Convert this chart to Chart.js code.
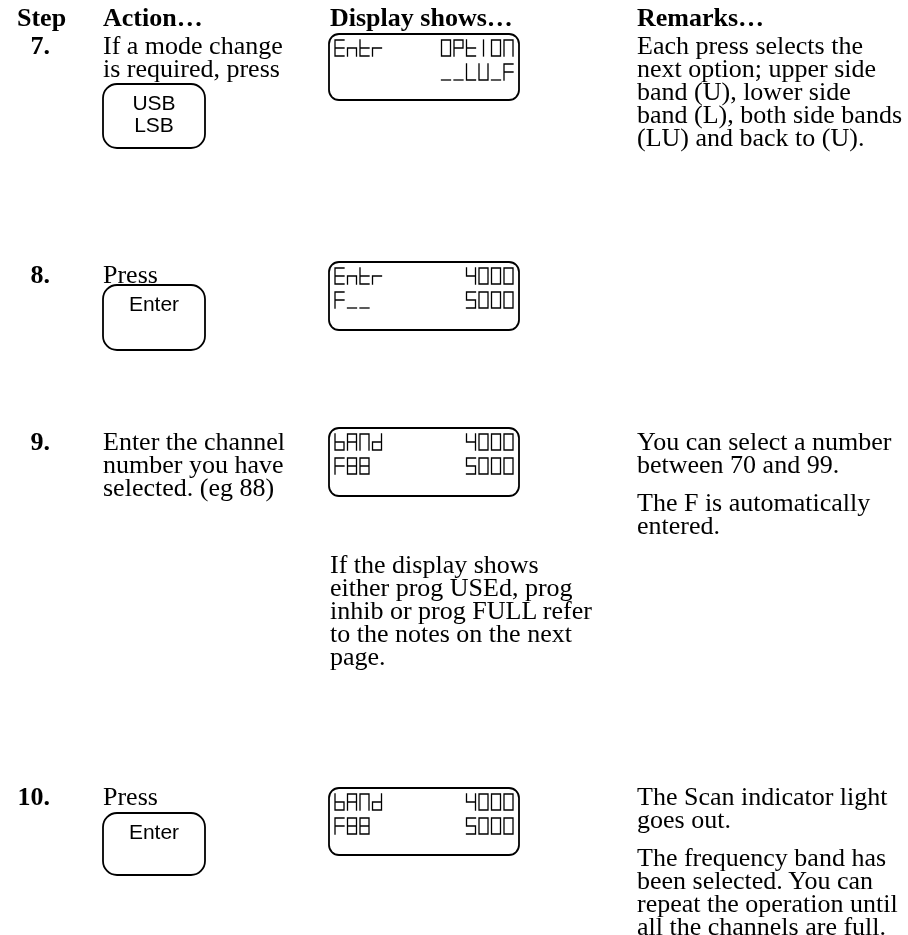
<!DOCTYPE html>
<html>
<head>
<meta charset="utf-8">
<script src="https://cdn.jsdelivr.net/npm/chart.js@4.4.1/dist/chart.umd.min.js"></script>
<style>
    html, body { margin: 0; padding: 0; background: #fff; }
    #page { position: relative; width: 908px; height: 935px; overflow: hidden; }
    #panel-canvas { position: absolute; left: 0; top: 0; }
    .txt {
        position: absolute;
        font-family: "Liberation Serif", "Times New Roman", serif;
        font-size: 26px;
        line-height: 23px;
        color: #000;
        white-space: nowrap;
    }
    .bold { font-weight: bold; }
    .step { text-align: right; width: 50px; left: 0; }
    .key {
        position: absolute;
        font-family: "Liberation Sans", Arial, sans-serif;
        font-size: 21px;
        line-height: 22px;
        text-align: center;
        width: 102px;
        left: 103px;
    }
</style>
</head>
<body>
<div id="page">
    <canvas id="panel-canvas" width="908" height="935"></canvas>
</div>
<script>
// column headings
const headings = ["Step", "Action\u2026", "Display shows\u2026", "Remarks\u2026"];

// step numbers
const stepNumbers = ["7.", "8.", "9.", "10."];

// action column text, one array per step
const actionLines = [
    ["If a mode change", "is required, press"],
    ["Press"],
    ["Enter the channel", "number you have", "selected. (eg 88)"],
    ["Press"],
];

// key labels, one per step (empty when no key)
const keyLabels = [["USB", "LSB"], ["Enter"], [], ["Enter"]];

// display text: [row1 left, row1 right, row2 left, row2 right]
const displayTexts = [
    ["Entr", "OPtION", "", "__LU_F"],
    ["Entr", "4000", "F__", "5000"],
    ["bANd", "4000", "F88", "5000"],
    ["bANd", "4000", "F88", "5000"],
];

// note under the step 9 display
const displayNote = ["If the display shows", "either prog USEd, prog", "inhib or prog FULL refer", "to the notes on the next", "page."];

// remarks, paragraphs per step
const remarks = [
    [["Each press selects the", "next option; upper side", "band (U), lower side", "band (L), both side bands", "(LU) and back to (U)."]],
    [],
    [["You can select a number", "between 70 and 99."], ["The F is automatically", "entered."]],
    [["The Scan indicator light", "goes out."], ["The frequency band has", "been selected. You can", "repeat the operation until", "all the channels are full."]],
];

// layout
const COL_X = [0, 103, 330, 637];
const HEADING_TOP = 6;
const STEP_TOPS = [34, 263, 430, 785];
const LINE_H = 23;
const PARA_GAP = 15;
const KEY_BOXES = [[103, 84, 205, 148], [103, 285, 205, 350], null, [103, 813, 205, 875]];
const DISPLAY_BOXES = [[329, 34, 519, 100], [329, 262, 519, 330], [329, 428, 519, 496], [329, 788, 519, 855]];
const NOTE_TOP = 553;

// seven segment map: a top, b upper right, c lower right, d bottom, e lower left, f upper left, g middle, i centre bar
const SEGMENTS = {
    "E": "adefg", "n": "ceg", "t": "defg", "r": "eg", "O": "abcdef", "0": "abcdef",
    "P": "abefg", "I": "i", "N": "abcef", "_": "d", "L": "def", "U": "bcdef",
    "F": "aefg", "4": "bcfg", "5": "acdfg", "8": "abcdefg", "b": "cdefg",
    "A": "abcefg", "d": "bcdeg",
};

const page = document.getElementById("page");

function addText(text, left, top, extraClass) {
    const el = document.createElement("div");
    el.className = "txt" + (extraClass ? " " + extraClass : "");
    el.style.left = left + "px";
    el.style.top = top + "px";
    el.textContent = text;
    page.appendChild(el);
    return el;
}

function addLines(lines, left, top) {
    lines.forEach((line, i) => addText(line, left, top + i * LINE_H));
    return top + lines.length * LINE_H;
}

headings.forEach((h, i) => addText(h, COL_X[i] === 0 ? 17 : COL_X[i], HEADING_TOP, "bold"));

stepNumbers.forEach((num, i) => {
    const el = addText(num, 0, STEP_TOPS[i], "bold step");
    el.style.left = "0px";
    addLines(actionLines[i], COL_X[1], STEP_TOPS[i]);

    let top = STEP_TOPS[i];
    remarks[i].forEach((para) => {
        top = addLines(para, COL_X[3], top) + PARA_GAP;
    });

    const box = KEY_BOXES[i];
    if (box && keyLabels[i].length) {
        const key = document.createElement("div");
        key.className = "key";
        key.style.top = (box[1] + 8) + "px";
        key.innerHTML = keyLabels[i].join("<br>");
        page.appendChild(key);
    }
});

addLines(displayNote, COL_X[2], NOTE_TOP);

function roundRect(ctx, x0, y0, x1, y1, r) {
    ctx.beginPath();
    ctx.moveTo(x0 + r, y0);
    ctx.lineTo(x1 - r, y0);
    ctx.arcTo(x1, y0, x1, y0 + r, r);
    ctx.lineTo(x1, y1 - r);
    ctx.arcTo(x1, y1, x1 - r, y1, r);
    ctx.lineTo(x0 + r, y1);
    ctx.arcTo(x0, y1, x0, y1 - r, r);
    ctx.lineTo(x0, y0 + r);
    ctx.arcTo(x0, y0, x0 + r, y0, r);
    ctx.closePath();
    ctx.stroke();
}

const CHAR_W = 9;
const CHAR_H = 16;
const CHAR_PITCH = 12.5;

function drawGlyph(ctx, ch, x, yMid) {
    const segs = SEGMENTS[ch];
    if (!segs) return;
    const top = yMid - CHAR_H / 2;
    const mid = yMid;
    const bot = yMid + CHAR_H / 2;
    const l = x;
    const r = x + CHAR_W;
    const c = x + CHAR_W / 2;
    const lines = {
        a: [l, top, r, top],
        b: [r, top, r, mid],
        c: [r, mid, r, bot],
        d: [l, bot, r, bot],
        e: [l, mid, l, bot],
        f: [l, top, l, mid],
        g: [l, mid, r, mid],
        i: [c, top, c, bot],
    };
    ctx.beginPath();
    for (const s of segs) {
        const p = lines[s];
        ctx.moveTo(p[0], p[1]);
        ctx.lineTo(p[2], p[3]);
    }
    ctx.stroke();
}

function drawSegText(ctx, text, x, yMid, alignRight) {
    const start = alignRight ? x - (text.length * CHAR_PITCH - (CHAR_PITCH - CHAR_W)) : x;
    for (let i = 0; i < text.length; i++) {
        drawGlyph(ctx, text[i], start + i * CHAR_PITCH, yMid);
    }
}

const panelPlugin = {
    id: "panelPlugin",
    afterDraw(chart) {
        const ctx = chart.ctx;
        const xs = chart.scales.x;
        const ys = chart.scales.y;
        const px = (v) => xs.getPixelForValue(v);
        const py = (v) => ys.getPixelForValue(v);
        ctx.save();
        ctx.strokeStyle = "#000";
        ctx.lineCap = "square";
        ctx.lineWidth = 1.8;
        KEY_BOXES.forEach((b) => {
            if (!b) return;
            roundRect(ctx, px(b[0]), py(b[1]), px(b[2]), py(b[3]), 14);
        });
        DISPLAY_BOXES.forEach((b, i) => {
            ctx.lineWidth = 1.8;
            roundRect(ctx, px(b[0]), py(b[1]), px(b[2]), py(b[3]), 10);
            const t = displayTexts[i];
            ctx.lineWidth = 1.3;
            const row1 = py(b[1] + 14);
            const row2 = py(b[1] + 38);
            const left = px(b[0] + 6);
            const right = px(b[2] - 6);
            drawSegText(ctx, t[0], left, row1, false);
            drawSegText(ctx, t[1], right, row1, true);
            drawSegText(ctx, t[2], left, row2, false);
            drawSegText(ctx, t[3], right, row2, true);
        });
        ctx.restore();
    },
};

new Chart(document.getElementById("panel-canvas"), {
    type: "scatter",
    data: { datasets: [] },
    options: {
        responsive: false,
        animation: false,
        layout: { padding: 0 },
        plugins: { legend: { display: false }, tooltip: { enabled: false } },
        scales: {
            x: { type: "linear", min: 0, max: 908, display: false },
            y: { type: "linear", min: 0, max: 935, reverse: true, display: false },
        },
    },
    plugins: [panelPlugin],
});
</script>
</body>
</html>
